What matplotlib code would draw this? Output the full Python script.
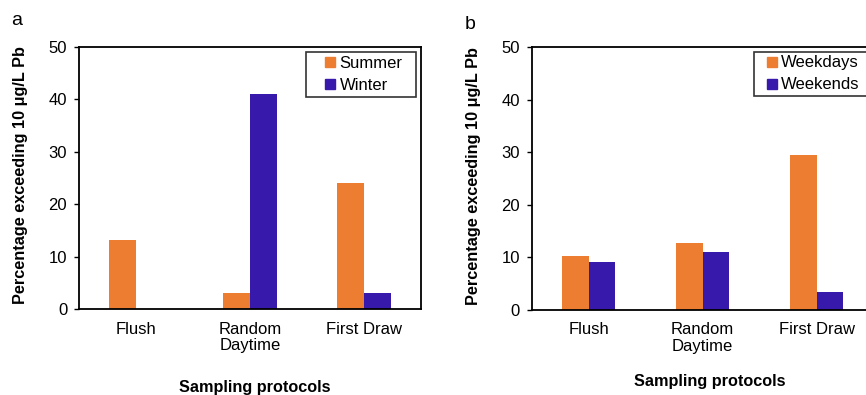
import matplotlib
matplotlib.use("Agg")
import matplotlib.pyplot as plt
from matplotlib.lines import Line2D
import numpy as np

plt.rcParams['font.family'] = ['Liberation Sans', 'DejaVu Sans']

categories = ["Flush", "Random\nDaytime", "First Draw"]
summer = [13.1, 3.0, 24.1]
winter = [0.0, 41.0, 3.0]
weekdays = [10.3, 12.7, 29.4]
weekends = [9.1, 11.1, 3.5]
yticks = [0, 10, 20, 30, 40, 50]

ORANGE = "#ED7D31"
BLUE = "#3719AB"

fig = plt.figure(figsize=(8.66, 3.95), dpi=100)
ax1 = fig.add_axes([0.0912, 0.2177, 0.3949, 0.6633])
ax2 = fig.add_axes([0.614, 0.2152, 0.3949, 0.6658])

def draw(ax, s1, s2, labels, bbox, hlen, htp):
    x = np.arange(len(categories))
    w = 0.234
    ax.bar(x - w / 2, s1, w, color=ORANGE)
    ax.bar(x + w / 2, s2, w, color=BLUE)
    ax.set_xlim(-0.5, 2.5)
    ax.set_ylim(0, 50)
    ax.set_yticks(yticks)
    ax.set_xticks(x)
    ax.set_xticklabels(categories, fontsize=12, linespacing=1.15)
    ax.tick_params(axis='x', length=0, pad=9)
    ax.tick_params(axis='y', length=3.5, width=1, direction='out', labelsize=12, pad=5)
    for sp in ax.spines.values():
        sp.set_color('black')
        sp.set_linewidth(1.3)
    ax.set_ylabel("Percentage exceeding 10 μg/L Pb", fontsize=11.7, fontweight='bold')
    ax.yaxis.set_label_coords(-0.149, 0.51)
    handles = [Line2D([], [], linestyle='none', marker='s', markersize=6.5,
                      markerfacecolor=c, markeredgecolor=c) for c in (ORANGE, BLUE)]
    leg = ax.legend(handles, labels, fontsize=12, frameon=True, fancybox=False,
                    handlelength=hlen, handletextpad=htp, borderpad=0.22,
                    labelspacing=0.42, borderaxespad=0, loc='upper left',
                    bbox_to_anchor=bbox, mode='expand')
    leg.get_frame().set_edgecolor('black')
    leg.get_frame().set_linewidth(1.2)

draw(ax1, summer, winter, ["Summer", "Winter"], (0.663, 0.8, 0.322, 0.18), 2.48, -0.66)
draw(ax2, weekdays, weekends, ["Weekdays", "Weekends"], (0.651, 0.8, 0.42, 0.182), 1.68, -0.3)

fig.text(0.2945, 0.020, "Sampling protocols", ha='center', va='center',
         fontsize=11.7, fontweight='bold')
fig.text(0.82, 0.033, "Sampling protocols", ha='center', va='center',
         fontsize=11.7, fontweight='bold')
fig.text(0.0196, 0.949, "a", ha='center', va='center', fontsize=14)
fig.text(0.543, 0.939, "b", ha='center', va='center', fontsize=14)

fig.savefig("out.png", dpi=100)
